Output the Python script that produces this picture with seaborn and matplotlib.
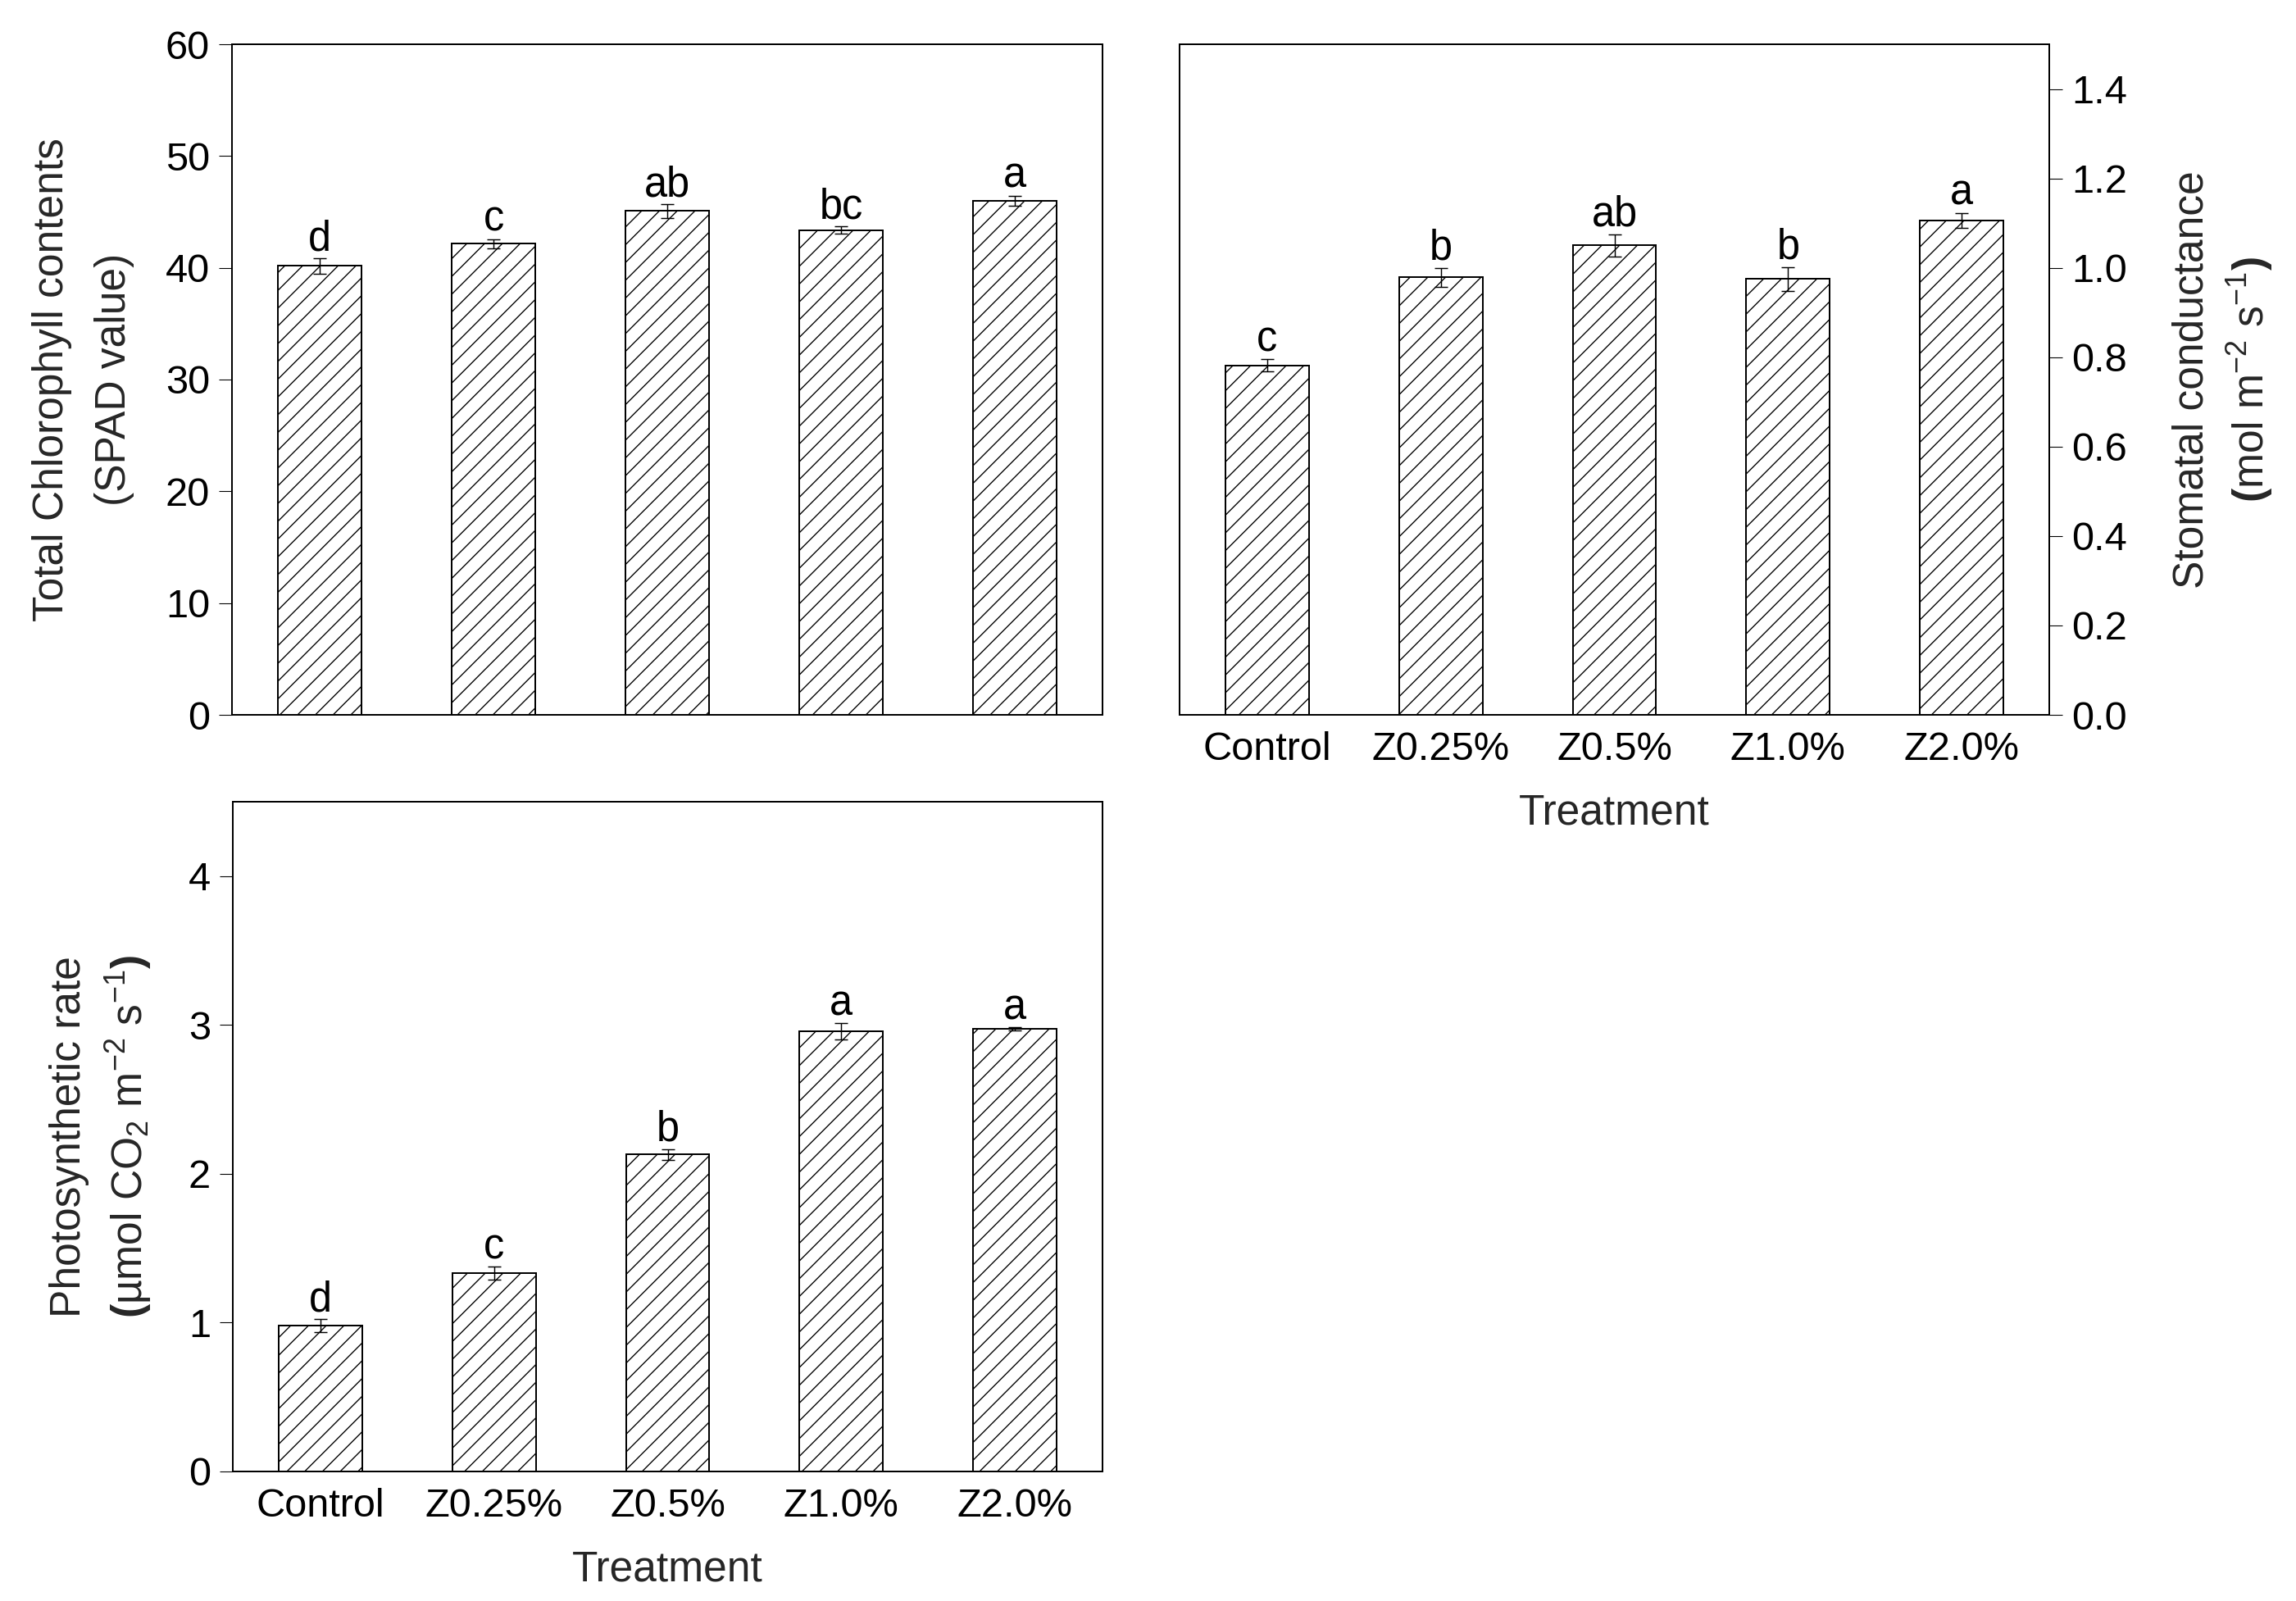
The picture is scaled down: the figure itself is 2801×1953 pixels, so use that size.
import numpy as np
import pandas as pd
import matplotlib
matplotlib.use("Agg")
import matplotlib.pyplot as plt
import seaborn as sns

# ---- data ----
treatments = ["Control", "Z0.25%", "Z0.5%", "Z1.0%", "Z2.0%"]

chl_mean = [40.16, 42.14, 45.09, 43.36, 46.02]
chl_se = [0.67, 0.42, 0.61, 0.32, 0.44]
chl_letters = ["d", "c", "ab", "bc", "a"]

gs_mean = [0.782, 0.979, 1.050, 0.975, 1.106]
gs_se = [0.013, 0.021, 0.025, 0.027, 0.017]
gs_letters = ["c", "b", "ab", "b", "a"]

pn_mean = [0.98, 1.332, 2.129, 2.957, 2.974]
pn_se = [0.042, 0.044, 0.037, 0.055, 0.010]
pn_letters = ["d", "c", "b", "a", "a"]

chl_yticks = [0, 10, 20, 30, 40, 50, 60]
gs_yticks = [0.0, 0.2, 0.4, 0.6, 0.8, 1.0, 1.2, 1.4]
pn_yticks = [0, 1, 2, 3, 4]

# ---- style ----
sns.set_theme(style="ticks")
plt.rcParams["font.family"] = ["Liberation Sans", "DejaVu Sans"]
plt.rcParams["mathtext.fontset"] = "custom"
plt.rcParams["mathtext.rm"] = "Liberation Sans"
plt.rcParams["mathtext.it"] = "Liberation Sans:italic"
plt.rcParams["mathtext.bf"] = "Liberation Sans:bold"
plt.rcParams["hatch.linewidth"] = 0.75
plt.rcParams["hatch.color"] = "black"
plt.rcParams["axes.edgecolor"] = "black"
plt.rcParams["axes.linewidth"] = 1.1
plt.rcParams["text.color"] = "black"
plt.rcParams["xtick.color"] = "black"
plt.rcParams["ytick.color"] = "black"

DPI = 130
W, H = 2801, 1953
fig = plt.figure(figsize=(W / DPI, H / DPI), dpi=DPI)
fig.patch.set_facecolor("white")

ax1 = fig.add_axes([283 / W, 1 - 872 / H, 1062 / W, 818 / H])
ax2 = fig.add_axes([1439 / W, 1 - 872 / H, 1061 / W, 818 / H])
ax3 = fig.add_axes([284 / W, 1 - 1795 / H, 1061 / W, 817 / H])

TICK_FS = 27
LAB_FS = 28.5
LET_FS = 28


def panel(ax, means, ses, letters, ylim, yticks, fmt):
    df = pd.DataFrame({"Treatment": treatments, "value": means})
    sns.barplot(data=df, x="Treatment", y="value", order=treatments,
                color="white", saturation=1, edgecolor="black",
                linewidth=1.1, width=0.48, hatch="//", errorbar=None,
                ax=ax, zorder=2)
    pos = np.arange(len(treatments))
    ax.errorbar(pos, means, yerr=ses, fmt="none", ecolor="black",
                elinewidth=0.8, capsize=4.7, capthick=0.8, zorder=3)
    for p, m, s, l in zip(pos, means, ses, letters):
        ax.annotate(l, (p, m + s), xytext=(0, 5.5), textcoords="offset points",
                    ha="center", va="baseline", fontsize=LET_FS)
    ax.set_xlim(-0.505, len(treatments) - 0.495)
    ax.set_ylim(*ylim)
    ax.set_yticks(yticks)
    ax.set_yticklabels([fmt.format(t) for t in yticks])
    ax.set_xlabel("")
    ax.set_ylabel("")
    for sp in ax.spines.values():
        sp.set_visible(True)
        sp.set_color("black")
        sp.set_linewidth(1.1)
    ax.tick_params(axis="x", bottom=False, length=0, pad=11,
                   labelsize=TICK_FS)
    ax.tick_params(axis="y", direction="out", length=8.9, width=0.6,
                   pad=6, labelsize=TICK_FS)
    ax.set_facecolor("white")


panel(ax1, chl_mean, chl_se, chl_letters, (0, 60), chl_yticks, "{:d}")
ax1.tick_params(axis="x", labelbottom=False)
ax1.set_ylabel("Total Chlorophyll contents\n(SPAD value)", fontsize=LAB_FS,
               labelpad=21, linespacing=1.7)

panel(ax2, gs_mean, gs_se, gs_letters, (0, 1.5), gs_yticks, "{:.1f}")
ax2.yaxis.tick_right()
ax2.yaxis.set_label_position("right")
ax2.tick_params(axis="y", left=False, right=True, labelleft=False,
                labelright=True)
ax2.set_ylabel("Stomatal conductance\n$\\mathbf{(}$mol m$^{-2}$ s$^{-1}\\mathbf{)}$",
               fontsize=LAB_FS, labelpad=30, linespacing=1.35)
ax2.set_xlabel("Treatment", fontsize=LAB_FS, labelpad=17)

panel(ax3, pn_mean, pn_se, pn_letters, (0, 4.5), pn_yticks, "{:d}")
ax3.set_ylabel("Photosynthetic rate\n$\\mathbf{(}$µmol CO$_2$ m$^{-2}$ s$^{-1}\\mathbf{)}$",
               fontsize=LAB_FS, labelpad=24, linespacing=1.35)
ax3.set_xlabel("Treatment", fontsize=LAB_FS, labelpad=17)

fig.savefig("out.png", dpi=DPI, facecolor="white")
